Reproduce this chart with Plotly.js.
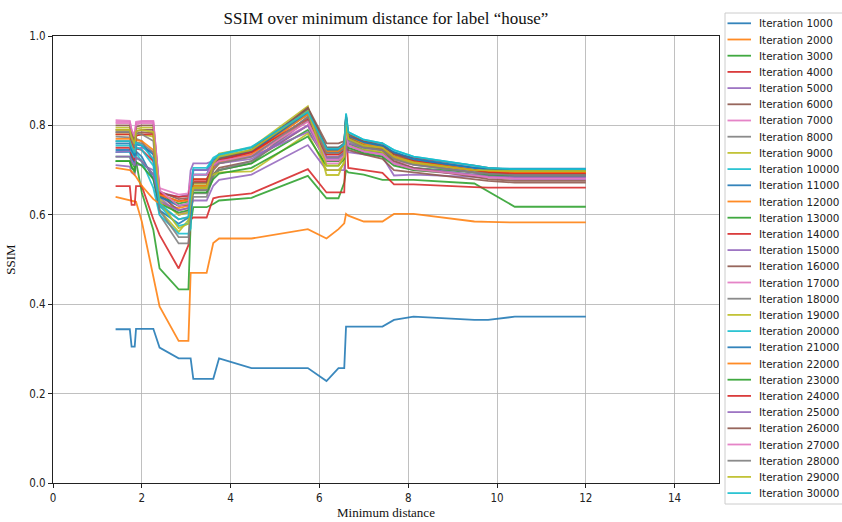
<!DOCTYPE html>
<html>
<head>
<meta charset="utf-8">
<script src="https://cdn.plot.ly/plotly-3.0.1.min.js"></script>
<style>html,body{margin:0;padding:0;background:#fff;}#chart{width:842px;height:522px;}</style>
</head>
<body>
<div id="chart"></div>
<script>
// Shared x values (minimum distance)
const minDistance = [1.41,1.73,1.77,1.84,1.87,2.0,2.26,2.4,2.83,3.05, 3.1,3.16,3.46,3.61,3.74,4.47,5.74,6.16,6.43,6.56, 6.6,6.65,7.0,7.42,7.68,8.12,9.49,9.8,10.4,12.0];

const seriesNames = ["Iteration 1000","Iteration 2000","Iteration 3000","Iteration 4000","Iteration 5000","Iteration 6000","Iteration 7000","Iteration 8000","Iteration 9000","Iteration 10000","Iteration 11000","Iteration 12000","Iteration 13000","Iteration 14000","Iteration 15000","Iteration 16000","Iteration 17000","Iteration 18000","Iteration 19000","Iteration 20000","Iteration 21000","Iteration 22000","Iteration 23000","Iteration 24000","Iteration 25000","Iteration 26000","Iteration 27000","Iteration 28000","Iteration 29000","Iteration 30000"];

const ssim1000 = [0.344,0.344,0.305,0.305,0.345,0.345,0.345,0.303,0.279,0.279, 0.279,0.233,0.233,0.233,0.279,0.257,0.257,0.228,0.257,0.257, 0.350,0.350,0.350,0.350,0.365,0.372,0.365,0.365,0.372,0.372];
const ssim2000 = [0.640,0.632,0.631,0.630,0.629,0.585,0.465,0.395,0.318,0.318, 0.470,0.470,0.470,0.537,0.547,0.547,0.568,0.547,0.568,0.581, 0.602,0.598,0.585,0.585,0.602,0.602,0.585,0.584,0.583,0.583];
const ssim3000 = [0.720,0.720,0.705,0.700,0.720,0.650,0.566,0.480,0.433,0.433, 0.580,0.617,0.617,0.624,0.632,0.638,0.687,0.637,0.637,0.672, 0.700,0.695,0.690,0.678,0.678,0.678,0.670,0.652,0.618,0.618];
const ssim4000 = [0.664,0.664,0.622,0.622,0.664,0.664,0.590,0.555,0.480,0.532, 0.590,0.594,0.594,0.637,0.640,0.648,0.702,0.650,0.650,0.650, 0.800,0.705,0.700,0.694,0.668,0.668,0.662,0.661,0.661,0.661];
const ssim5000 = [0.711,0.708,0.695,0.690,0.712,0.712,0.700,0.640,0.600,0.605, 0.620,0.632,0.632,0.665,0.678,0.690,0.756,0.700,0.700,0.700, 0.760,0.740,0.735,0.730,0.688,0.690,0.685,0.684,0.680,0.680];
const ssim6000 = [0.785,0.785,0.770,0.752,0.782,0.785,0.783,0.650,0.620,0.622, 0.640,0.655,0.655,0.690,0.705,0.720,0.800,0.720,0.720,0.730, 0.790,0.745,0.735,0.725,0.700,0.695,0.680,0.676,0.672,0.672];
const ssim7000 = [0.812,0.810,0.790,0.775,0.808,0.810,0.810,0.655,0.600,0.610, 0.640,0.660,0.660,0.700,0.720,0.735,0.810,0.730,0.730,0.740, 0.800,0.760,0.750,0.742,0.720,0.712,0.695,0.692,0.686,0.685];
const ssim8000 = [0.775,0.773,0.760,0.745,0.770,0.765,0.720,0.600,0.536,0.536, 0.600,0.640,0.640,0.685,0.700,0.715,0.820,0.740,0.740,0.750, 0.810,0.770,0.755,0.745,0.725,0.715,0.700,0.695,0.690,0.690];
const ssim9000 = [0.795,0.795,0.775,0.760,0.792,0.795,0.795,0.610,0.562,0.588, 0.640,0.670,0.670,0.720,0.737,0.750,0.843,0.689,0.689,0.720, 0.815,0.770,0.755,0.750,0.730,0.718,0.700,0.698,0.695,0.695];
const ssim10000 = [0.740,0.740,0.728,0.715,0.738,0.720,0.660,0.600,0.558,0.558, 0.570,0.690,0.690,0.720,0.730,0.745,0.830,0.745,0.745,0.755, 0.820,0.780,0.762,0.755,0.740,0.725,0.705,0.702,0.700,0.700];
const ssim11000 = [0.745,0.745,0.730,0.715,0.742,0.730,0.680,0.610,0.580,0.594, 0.600,0.700,0.700,0.722,0.728,0.740,0.825,0.740,0.740,0.750, 0.815,0.775,0.760,0.752,0.738,0.722,0.705,0.703,0.703,0.703];
const ssim12000 = [0.705,0.700,0.697,0.690,0.685,0.665,0.635,0.625,0.615,0.620, 0.640,0.660,0.660,0.700,0.715,0.730,0.810,0.735,0.735,0.745, 0.810,0.770,0.752,0.745,0.725,0.715,0.700,0.697,0.695,0.695];
const ssim13000 = [0.730,0.730,0.718,0.705,0.728,0.720,0.690,0.640,0.625,0.630, 0.650,0.665,0.665,0.690,0.700,0.715,0.790,0.720,0.720,0.735, 0.800,0.760,0.745,0.738,0.715,0.705,0.695,0.692,0.690,0.690];
const ssim14000 = [0.750,0.750,0.735,0.720,0.748,0.745,0.720,0.645,0.630,0.635, 0.660,0.675,0.675,0.710,0.720,0.735,0.835,0.750,0.750,0.760, 0.820,0.775,0.765,0.760,0.735,0.728,0.710,0.705,0.700,0.700];
const ssim15000 = [0.740,0.742,0.745,0.750,0.748,0.750,0.740,0.650,0.640,0.645, 0.700,0.715,0.715,0.720,0.725,0.730,0.785,0.730,0.730,0.740, 0.800,0.760,0.750,0.745,0.725,0.715,0.695,0.690,0.688,0.688];
const ssim16000 = [0.790,0.790,0.772,0.758,0.787,0.790,0.790,0.645,0.610,0.615, 0.640,0.660,0.660,0.705,0.720,0.740,0.840,0.760,0.760,0.765, 0.820,0.780,0.765,0.755,0.735,0.720,0.700,0.695,0.690,0.690];
const ssim17000 = [0.805,0.805,0.787,0.772,0.802,0.805,0.805,0.660,0.645,0.648, 0.685,0.700,0.700,0.715,0.722,0.735,0.800,0.715,0.715,0.725, 0.790,0.750,0.740,0.735,0.712,0.700,0.688,0.685,0.683,0.683];
const ssim18000 = [0.765,0.765,0.750,0.735,0.762,0.760,0.740,0.620,0.590,0.595, 0.625,0.648,0.648,0.690,0.700,0.720,0.812,0.728,0.728,0.740, 0.800,0.765,0.750,0.745,0.725,0.712,0.695,0.690,0.687,0.687];
const ssim19000 = [0.780,0.780,0.763,0.748,0.777,0.780,0.775,0.635,0.600,0.605, 0.650,0.680,0.680,0.690,0.695,0.697,0.782,0.700,0.700,0.715, 0.790,0.755,0.745,0.740,0.725,0.715,0.700,0.698,0.697,0.697];
const ssim20000 = [0.755,0.755,0.742,0.728,0.752,0.745,0.710,0.620,0.575,0.580, 0.640,0.700,0.700,0.725,0.733,0.750,0.835,0.750,0.750,0.760, 0.825,0.785,0.768,0.760,0.745,0.730,0.710,0.705,0.701,0.701];
const ssim21000 = [0.760,0.760,0.745,0.732,0.757,0.755,0.735,0.640,0.620,0.625, 0.660,0.690,0.690,0.715,0.725,0.742,0.828,0.745,0.745,0.755, 0.815,0.775,0.762,0.755,0.740,0.725,0.705,0.701,0.699,0.699];
const ssim22000 = [0.770,0.770,0.755,0.740,0.767,0.765,0.745,0.645,0.630,0.632, 0.650,0.665,0.665,0.705,0.718,0.735,0.825,0.742,0.742,0.752, 0.810,0.772,0.758,0.750,0.730,0.718,0.700,0.697,0.694,0.694];
const ssim23000 = [0.720,0.720,0.708,0.695,0.718,0.710,0.680,0.625,0.605,0.610, 0.635,0.650,0.650,0.680,0.692,0.705,0.775,0.710,0.710,0.725, 0.790,0.750,0.738,0.730,0.710,0.700,0.690,0.688,0.686,0.686];
const ssim24000 = [0.780,0.780,0.765,0.750,0.777,0.780,0.780,0.648,0.640,0.642, 0.665,0.680,0.680,0.710,0.722,0.740,0.815,0.735,0.735,0.745, 0.820,0.770,0.755,0.748,0.730,0.720,0.700,0.695,0.692,0.692];
const ssim25000 = [0.730,0.730,0.720,0.710,0.728,0.720,0.690,0.630,0.610,0.615, 0.655,0.700,0.700,0.710,0.715,0.725,0.800,0.725,0.725,0.735, 0.790,0.755,0.742,0.735,0.715,0.705,0.690,0.686,0.684,0.684];
const ssim26000 = [0.800,0.800,0.782,0.765,0.797,0.800,0.800,0.652,0.635,0.638, 0.655,0.672,0.672,0.712,0.725,0.745,0.838,0.750,0.750,0.758, 0.815,0.772,0.755,0.745,0.720,0.705,0.685,0.680,0.676,0.676];
const ssim27000 = [0.808,0.808,0.790,0.775,0.805,0.808,0.808,0.655,0.620,0.625, 0.670,0.690,0.690,0.712,0.720,0.732,0.808,0.722,0.722,0.732, 0.795,0.755,0.742,0.735,0.715,0.702,0.688,0.684,0.681,0.681];
const ssim28000 = [0.785,0.785,0.768,0.752,0.782,0.780,0.765,0.610,0.550,0.550, 0.620,0.655,0.655,0.700,0.715,0.730,0.818,0.738,0.738,0.748, 0.805,0.768,0.752,0.745,0.725,0.712,0.695,0.692,0.689,0.689];
const ssim29000 = [0.790,0.790,0.773,0.758,0.787,0.790,0.785,0.630,0.570,0.580, 0.630,0.660,0.660,0.715,0.730,0.745,0.832,0.710,0.710,0.730, 0.810,0.770,0.755,0.750,0.730,0.718,0.700,0.699,0.698,0.698];
const ssim30000 = [0.765,0.765,0.752,0.738,0.762,0.755,0.725,0.625,0.590,0.595, 0.650,0.705,0.705,0.728,0.735,0.752,0.830,0.748,0.748,0.758, 0.827,0.785,0.768,0.760,0.745,0.730,0.710,0.705,0.702,0.702];

const allSeries = [ssim1000,ssim2000,ssim3000,ssim4000,ssim5000,ssim6000,ssim7000,ssim8000,ssim9000,ssim10000,
  ssim11000,ssim12000,ssim13000,ssim14000,ssim15000,ssim16000,ssim17000,ssim18000,ssim19000,ssim20000,
  ssim21000,ssim22000,ssim23000,ssim24000,ssim25000,ssim26000,ssim27000,ssim28000,ssim29000,ssim30000];

const palette = ['#1f77b4','#ff7f0e','#2ca02c','#d62728','#9467bd','#8c564b','#e377c2','#7f7f7f','#bcbd22','#17becf'];

const xTickVals = [0,2,4,6,8,10,12,14];
const yTickVals = [0.0,0.2,0.4,0.6,0.8,1.0];

// plot-area geometry (pixels)
const L = 53, R = 719, T = 36, B = 483, W = 842, H = 522;
const px2x = p => (p - L) / (R - L);
const px2y = p => (B - p) / (B - T);

const traces = allSeries.map((ys, i) => ({
  type: 'scatter', mode: 'lines', x: minDistance, y: ys, name: seriesNames[i],
  line: {color: palette[i % 10], width: 1.8}, opacity: 0.88, hoverinfo: 'skip'
}));

const shapes = [];
const annotations = [];
// legend box
shapes.push({type:'rect', xref:'paper', yref:'paper', x0: px2x(725), x1: px2x(860), y0: px2y(504), y1: px2y(13),
  line:{color:'#cccccc', width:1}, fillcolor:'rgba(255,255,255,0.8)', layer:'above'});
seriesNames.forEach((nm, i) => {
  const yc = 23.3 + 16.2 * i;
  shapes.push({type:'line', xref:'paper', yref:'paper', x0: px2x(727.5), x1: px2x(751), y0: px2y(yc), y1: px2y(yc),
    line:{color: palette[i % 10], width: 1.8}, opacity: 0.9, layer:'above'});
  annotations.push({xref:'paper', yref:'paper', x: px2x(757), y: px2y(yc), xanchor:'left', yanchor:'middle',
    text: nm, showarrow:false, font:{family:'DejaVu Sans, sans-serif', size:10.4, color:'#222'}});
});

const tickFont = {family:'"Liberation Sans Narrow", "DejaVu Sans Condensed", "DejaVu Sans", sans-serif', size:11.5, color:'#222'};
const serif = 'Liberation Serif, "DejaVu Serif", serif';

const layout = {
  width: W, height: H,
  margin: {l: L, r: W - R, t: T, b: H - B, pad: 0},
  paper_bgcolor: '#ffffff', plot_bgcolor: '#ffffff',
  showlegend: false,
  title: {text: 'SSIM over minimum distance for label “house”', font: {family: serif, size: 17, color: '#111'},
    xref: 'paper', x: 0.5, xanchor: 'center', yref: 'container', y: 1 - 18 / H, yanchor: 'middle'},
  xaxis: {range: [0, 15], tickvals: xTickVals, ticktext: xTickVals.map(v => String(v)),
    showgrid: true, gridcolor: '#b0b0b0', gridwidth: 0.8, zeroline: false,
    showline: true, linecolor: '#222', linewidth: 1, mirror: true,
    ticks: 'outside', ticklen: 4, tickcolor: '#222', tickfont: tickFont,
    title: {text: 'Minimum distance', font: {family: serif, size: 13, color: '#111'}, standoff: 3}},
  yaxis: {range: [0, 1], tickvals: yTickVals, ticktext: yTickVals.map(v => v.toFixed(1)),
    showgrid: true, gridcolor: '#b0b0b0', gridwidth: 0.8, zeroline: false,
    showline: true, linecolor: '#222', linewidth: 1, mirror: true,
    ticks: 'outside', ticklen: 4, tickcolor: '#222', tickfont: tickFont,
    title: {text: 'SSIM', font: {family: serif, size: 13, color: '#111'}, standoff: 10}},
  shapes: shapes,
  annotations: annotations
};

Plotly.newPlot('chart', traces, layout, {displayModeBar: false, staticPlot: true});
</script>
</body>
</html>
